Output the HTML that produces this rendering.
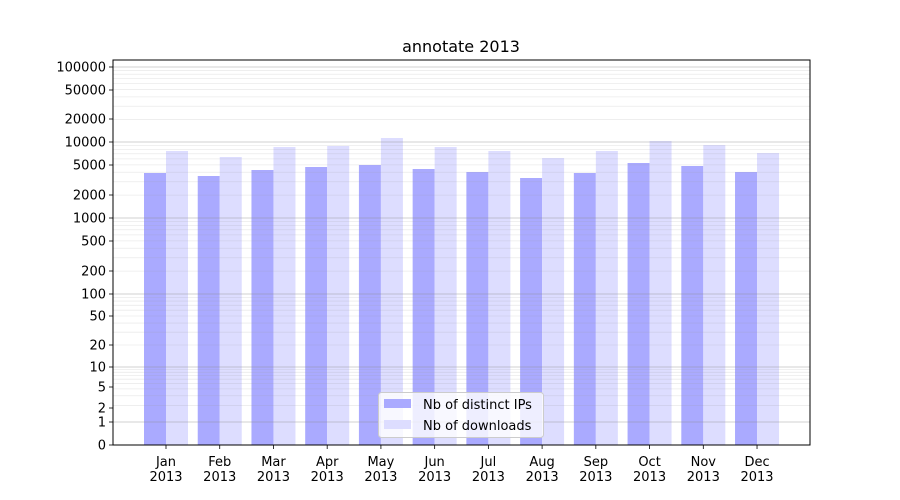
<!DOCTYPE html>
<html><head><meta charset="utf-8"><style>
body{margin:0;background:#fff;}
svg{display:block;font-family:"DejaVu Sans","Liberation Sans",sans-serif;}
</style></head><body>
<svg id="s" width="900" height="500" xmlns="http://www.w3.org/2000/svg"></svg>
<script>
const s=document.getElementById('s');
const pts=[[1,422],[10,367],[100,294],[1000,218],[10000,142],[100000,67],[1000000,-8]];
function Y(v){ if(v<=1) return 445-23*v;
  for(let i=0;i<pts.length-1;i++){const [a,ya]=pts[i],[b,yb]=pts[i+1];
    if(v<=b){const t=(Math.log10(v)-Math.log10(a))/(Math.log10(b)-Math.log10(a));return ya+(yb-ya)*t;}}
}
let h='';
const L=113,R=810,T=60,B=445;
// bars
const blue=[173,176,170,167,165,169,172,178,173,163,166,172];
const light=[151,157,147,146,138,147,151,158,151,141,145,153];
const months=['Jan','Feb','Mar','Apr','May','Jun','Jul','Aug','Sep','Oct','Nov','Dec'];
for(let i=0;i<12;i++){const cx=166+i*53.73;
  h+=`<rect x="${cx-22}" y="${blue[i]}" width="22" height="${B-blue[i]}" fill="#aaaaff"/>`;
  h+=`<rect x="${cx}" y="${light[i]}" width="22" height="${B-light[i]}" fill="#ddddff"/>`;
  h+=`<line x1="${cx}" x2="${cx}" y1="${B}" y2="${B+4}" stroke="#000" stroke-width="0.8"/>`;
  h+=`<text x="${cx}" y="${B+21}" font-size="13" text-anchor="middle">${months[i]}</text>`;
  h+=`<text x="${cx}" y="${B+36}" font-size="13" text-anchor="middle">2013</text>`;
}
// grid
for(let d=1;d<=100000;d*=10){for(let k=2;k<=9;k++){const y=Y(d*k);if(y>T)h+=`<line x1="${L}" x2="${R}" y1="${y}" y2="${y}" stroke="#999" stroke-opacity="0.2" stroke-width="0.8"/>`;}}
for(let d=1;d<=100000;d*=10){const y=Y(d);h+=`<line x1="${L}" x2="${R}" y1="${y}" y2="${y}" stroke="#888" stroke-opacity="0.5" stroke-width="0.8"/>`;}
// ticks
const ticks=[[100000,67],[50000,90],[20000,119],[10000,142],[5000,165],[2000,195],[1000,218],[500,241],[200,271],[100,294],[50,316],[20,345],[10,367],[5,387],[2,408],[1,422],[0,445]];
for(const [v,y] of ticks){h+=`<line x1="${L-4}" x2="${L}" y1="${y}" y2="${y}" stroke="#000" stroke-width="0.8"/>`;
  h+=`<text x="${L-7}" y="${y+4.5}" font-size="13" text-anchor="end">${v}</text>`;}
h+=`<rect x="${L}" y="${T}" width="${R-L}" height="${B-T}" fill="none" stroke="#000" stroke-width="1"/>`;
h+=`<text x="461" y="52" font-size="16" text-anchor="middle">annotate 2013</text>`;
// legend
h+=`<rect x="378.5" y="392.5" width="165" height="45" rx="3" fill="#fff" fill-opacity="0.8" stroke="#ccc"/>`;
h+=`<rect x="384" y="399" width="27" height="9" fill="#aaaaff"/><text x="423" y="409" font-size="13">Nb of distinct IPs</text>`;
h+=`<rect x="384" y="420" width="27" height="9" fill="#ddddff"/><text x="423" y="430" font-size="13">Nb of downloads</text>`;
s.innerHTML=h;
</script>
</body></html>
